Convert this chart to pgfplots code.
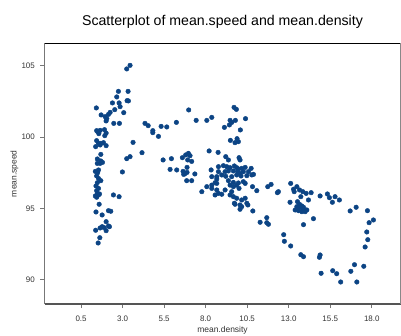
\documentclass[border=0pt]{standalone}
\usepackage{pgfplots}
\pgfplotsset{compat=1.18}
\usepackage{fontspec}
\setmainfont{Liberation Sans}
\definecolor{dotcol}{RGB}{12,68,132}
\definecolor{ticktext}{RGB}{51,51,51}
\definecolor{leftline}{RGB}{119,119,119}
\definecolor{botline}{RGB}{85,85,85}
\definecolor{rightline}{RGB}{136,136,136}
\begin{document}
\begin{tikzpicture}
\path[use as bounding box] (0,0) rectangle (401bp,336bp);
\begin{axis}[
  at={(44.5bp,32bp)}, anchor=south west,
  scale only axis, width=356bp, height=260.5bp,
  xmin=-1.70, xmax=19.73, ymin=88.32, ymax=106.55,
  axis line style={draw=none},
  clip=false,
  xtick={0.5,3,5.5,8,10.5,13,15.5,18},
  ytick={90,95,100,105},
  xtick pos=bottom, ytick pos=left,
  tick align=outside, major tick length=4bp,
  tick style={leftline, line width=1bp},
  /pgf/number format/assume math mode=true,
  xticklabel style={/pgf/number format/.cd, fixed, fixed zerofill, precision=1, /tikz/.cd,
     font=\fontsize{8}{9}\selectfont, text=ticktext, anchor=base, inner sep=0pt, yshift=-13.5bp},
  yticklabel style={font=\fontsize{8}{9}\selectfont, text=ticktext, anchor=east, inner sep=0pt, xshift=-5.5bp},
  title={Scatterplot of mean.speed and mean.density},
  title style={at={(axis description cs:0.5,1.046)}, anchor=base, font=\fontsize{14.2}{16}\selectfont, inner sep=0pt},
  xlabel={mean.density},
  xlabel style={at={(axis description cs:0.5,-0.1075)}, anchor=base, font=\fontsize{8.5}{10}\selectfont, text=ticktext, inner sep=0pt},
  ylabel={mean.speed},
  ylabel style={at={(axis description cs:-0.0785,0.5)}, anchor=base, font=\fontsize{8.5}{10}\selectfont, text=ticktext, inner sep=0pt},
]
\draw[leftline, line width=1.3bp] (rel axis cs:0,0) -- (rel axis cs:0,1);
\draw[botline, line width=1.3bp] (rel axis cs:0,0) -- (rel axis cs:1,0);
\draw[black, line width=1bp] (rel axis cs:0,1) -- (rel axis cs:1,1);
\draw[rightline, line width=1bp] (rel axis cs:1,0) -- (rel axis cs:1,1);
\addplot[only marks, color=dotcol, mark=*, mark size=2.3bp, mark options={draw=none, fill=dotcol}] table {
x y
3.25 104.77
3.45 105.02
2.75 103.20
3.33 103.20
2.65 102.81
2.39 102.39
2.79 102.39
2.85 102.13
3.27 102.55
3.35 102.53
1.42 102.04
2.53 101.92
2.25 101.73
2.15 101.59
3.07 101.71
1.71 101.55
1.95 101.43
2.05 101.29
2.01 101.13
2.47 100.96
2.81 100.96
4.35 100.96
4.54 100.80
4.82 100.45
4.82 100.31
5.32 100.75
5.66 100.71
6.24 101.03
5.16 100.05
1.44 100.45
1.65 100.47
1.91 100.52
2.01 100.28
1.93 100.10
1.57 100.24
1.50 100.38
3.63 99.63
1.44 99.75
1.55 99.56
1.69 99.56
1.85 99.61
2.01 99.40
1.38 99.33
1.65 99.45
4.17 98.91
1.69 98.79
3.45 98.63
3.25 98.49
1.48 98.47
1.69 98.33
1.79 98.23
1.48 98.16
1.65 98.16
2.99 97.56
1.36 97.60
1.55 97.70
1.50 97.51
1.44 97.28
1.55 97.11
1.69 96.95
1.48 96.81
1.40 96.58
1.55 96.41
1.44 96.25
1.48 96.06
1.36 95.88
1.55 95.95
1.44 95.79
1.61 96.02
2.45 95.95
2.79 95.83
1.59 95.30
1.40 94.76
1.77 94.55
2.15 94.85
2.29 94.81
2.01 94.08
1.38 93.48
1.65 93.64
1.77 93.73
1.89 93.66
2.01 93.45
2.15 93.78
2.21 93.73
1.63 92.96
1.53 92.59
9.71 102.08
9.85 101.94
6.98 101.90
8.37 101.38
8.07 101.17
7.43 101.17
10.40 101.29
9.47 101.17
9.79 101.17
9.57 101.03
9.43 100.85
9.13 100.68
10.09 100.50
9.49 99.77
9.89 99.89
9.97 99.68
9.77 99.61
8.21 99.03
8.75 98.93
6.96 98.86
6.80 98.75
6.60 98.56
7.06 98.70
6.92 98.40
7.16 98.30
9.21 98.63
9.37 98.40
10.01 98.56
10.07 98.40
5.94 98.49
5.44 98.40
5.86 97.74
6.26 97.70
6.64 97.60
6.76 97.44
6.88 97.53
6.68 97.39
6.88 97.88
7.35 97.42
6.86 96.95
7.16 96.95
8.77 97.93
9.07 98.00
9.27 97.93
9.47 97.86
9.73 97.98
9.87 97.86
9.97 97.77
10.17 97.81
10.38 97.88
10.74 97.81
8.77 97.58
9.17 97.58
9.37 97.63
9.67 97.63
9.93 97.58
10.07 97.46
10.27 97.58
10.58 97.58
10.88 97.39
8.33 97.70
8.37 97.23
8.67 97.23
8.97 97.35
9.21 97.26
9.57 97.23
9.87 97.35
10.13 97.28
10.48 97.30
10.78 97.35
9.37 96.95
9.67 96.83
9.97 96.79
10.27 96.88
8.07 96.53
7.77 96.18
8.67 96.76
8.37 96.41
8.67 96.30
8.77 96.06
8.57 95.95
8.97 96.00
9.17 96.30
9.47 96.64
9.67 96.53
9.87 96.64
10.01 96.41
9.57 96.18
9.67 95.83
9.47 95.95
9.87 95.72
10.17 95.60
10.38 95.72
10.48 95.37
10.07 95.25
9.73 95.37
10.84 94.83
10.82 96.53
11.08 96.25
11.74 96.53
11.94 96.69
10.38 96.76
8.67 97.07
8.37 96.64
8.57 96.81
9.77 95.30
10.17 95.13
10.07 94.95
10.54 95.25
11.28 94.04
11.68 94.36
11.68 94.01
11.78 93.90
12.32 96.11
12.38 96.18
13.12 96.76
13.49 96.53
13.29 96.35
13.33 96.18
13.65 96.30
13.85 96.18
14.05 96.06
14.35 96.11
14.19 95.60
13.73 95.83
13.08 95.44
13.53 95.48
13.65 95.30
13.49 95.13
13.79 95.18
13.39 94.90
13.59 94.85
13.85 94.95
13.99 94.78
14.09 94.90
13.79 94.78
13.65 95.09
13.89 95.09
14.49 94.29
13.89 93.87
12.70 93.17
12.74 92.71
13.12 92.38
13.73 91.77
13.89 91.63
14.89 91.75
14.85 91.59
14.95 90.47
15.65 90.65
15.89 90.44
16.13 89.86
14.89 95.88
15.33 96.02
15.45 95.76
15.79 95.83
15.63 95.44
16.05 95.60
16.70 94.83
17.06 95.09
17.74 94.85
17.84 94.01
18.10 94.20
17.70 93.36
17.76 92.82
17.60 92.31
16.96 91.07
17.52 90.96
16.74 90.61
17.10 89.86
};
\end{axis}
\end{tikzpicture}
\end{document}
